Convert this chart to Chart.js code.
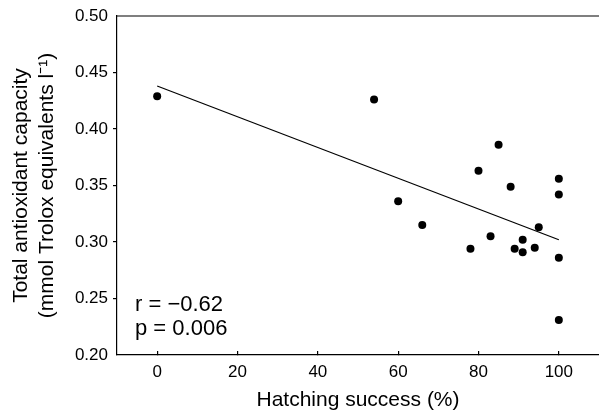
<!DOCTYPE html>
<html>
<head>
<meta charset="utf-8">
<script src="https://cdn.jsdelivr.net/npm/chart.js@4"></script>
<style>
    html, body { margin: 0; padding: 0; background: #fff; }
    #wrap { width: 599px; height: 414px; }
</style>
</head>
<body>
<div id="wrap"><canvas id="tacChart" width="599" height="414"></canvas></div>
<script>
// hatching success (%) and total antioxidant capacity per clutch
const hatching = [0, 54, 60, 66, 78, 80, 83, 85, 88, 89, 91, 91, 94, 95, 100, 100, 100, 100];
const capacity = [0.429, 0.426, 0.336, 0.315, 0.294, 0.363, 0.305, 0.386, 0.349, 0.294, 0.302, 0.291, 0.295, 0.313, 0.356, 0.342, 0.286, 0.231];

// regression line end points
const fitX = [0, 100];
const fitY = [0.438, 0.302];

const xTicks = [0, 20, 40, 60, 80, 100];
const yTicks = [0.20, 0.25, 0.30, 0.35, 0.40, 0.45, 0.50];

const xLabel = 'Hatching success (%)';
const yLabel = ['Total antioxidant capacity', '(mmol Trolox equivalents l\u207B\u00B9)'];
const statsText = ['r = \u22120.62', 'p = 0.006'];

const FONT = "'Liberation Sans', Arial, sans-serif";

// top border line + r / p text
const extrasPlugin = {
    id: 'extras',
    afterDatasetsDraw(chart) {
        const { ctx, chartArea } = chart;
        ctx.save();
        ctx.strokeStyle = '#000';
        ctx.lineWidth = 1.2;
        ctx.beginPath();
        ctx.moveTo(chartArea.left, chartArea.top);
        ctx.lineTo(chartArea.right, chartArea.top);
        ctx.stroke();

        ctx.fillStyle = '#000';
        ctx.font = '22px ' + FONT;
        ctx.textBaseline = 'middle';
        ctx.textAlign = 'left';
        ctx.fillText(statsText[0], chartArea.left + 18, chartArea.bottom - 50);
        ctx.fillText(statsText[1], chartArea.left + 18, chartArea.bottom - 26);
        ctx.restore();
    }
};

function initializeChart() {
    const ctx = document.getElementById('tacChart');

    const points = hatching.map((h, i) => ({ x: h, y: capacity[i] }));
    const fitLine = fitX.map((v, i) => ({ x: v, y: fitY[i] }));

    new Chart(ctx, {
        type: 'scatter',
        data: {
            datasets: [
                {
                    type: 'line',
                    data: fitLine,
                    borderColor: '#000',
                    borderWidth: 1.2,
                    pointRadius: 0,
                    fill: false
                },
                {
                    data: points,
                    backgroundColor: '#000',
                    borderWidth: 0,
                    pointRadius: 4
                }
            ]
        },
        options: {
            responsive: false,
            animation: false,
            layout: {
                autoPadding: false,
                padding: { top: 16, right: 0, bottom: 0, left: 0 }
            },
            plugins: {
                legend: { display: false },
                tooltip: { enabled: false }
            },
            scales: {
                x: {
                    type: 'linear',
                    position: 'bottom',
                    min: -10,
                    max: 110,
                    afterBuildTicks: (scale) => { scale.ticks = xTicks.map(v => ({ value: v })); },
                    afterFit: (scale) => {
                        scale.height = 59;
                        scale.paddingLeft = 0;
                        scale.paddingRight = 0;
                    },
                    grid: {
                        drawOnChartArea: false,
                        drawTicks: true,
                        tickLength: -4,
                        color: '#000',
                        lineWidth: 1.2
                    },
                    border: { color: '#000', width: 1.2 },
                    ticks: {
                        color: '#000',
                        font: { family: FONT, size: 17 },
                        padding: 11,
                        maxRotation: 0
                    },
                    title: {
                        display: true,
                        text: xLabel,
                        color: '#000',
                        font: { family: FONT, size: 21, lineHeight: 1.2 },
                        padding: { top: 0, bottom: 1.5 }
                    }
                },
                y: {
                    type: 'linear',
                    min: 0.2,
                    max: 0.5,
                    afterBuildTicks: (scale) => { scale.ticks = yTicks.map(v => ({ value: v })); },
                    afterFit: (scale) => { scale.width = 117; },
                    grid: {
                        drawOnChartArea: false,
                        drawTicks: true,
                        tickLength: 4,
                        color: (c) => (c.tick && (c.tick.value <= 0.2 || c.tick.value >= 0.5)) ? 'rgba(0,0,0,0)' : '#000',
                        lineWidth: 1.2
                    },
                    border: { color: '#000', width: 1.2 },
                    ticks: {
                        color: '#000',
                        font: { family: FONT, size: 17 },
                        padding: 5,
                        callback: (v) => Number(v).toFixed(2)
                    },
                    title: {
                        display: true,
                        text: yLabel,
                        color: '#000',
                        font: { family: FONT, size: 21, lineHeight: 1.2 },
                        padding: { top: 9, bottom: 0 }
                    }
                }
            }
        },
        plugins: [extrasPlugin]
    });
}

document.addEventListener('DOMContentLoaded', () => {
    initializeChart();
});
</script>
</body>
</html>
